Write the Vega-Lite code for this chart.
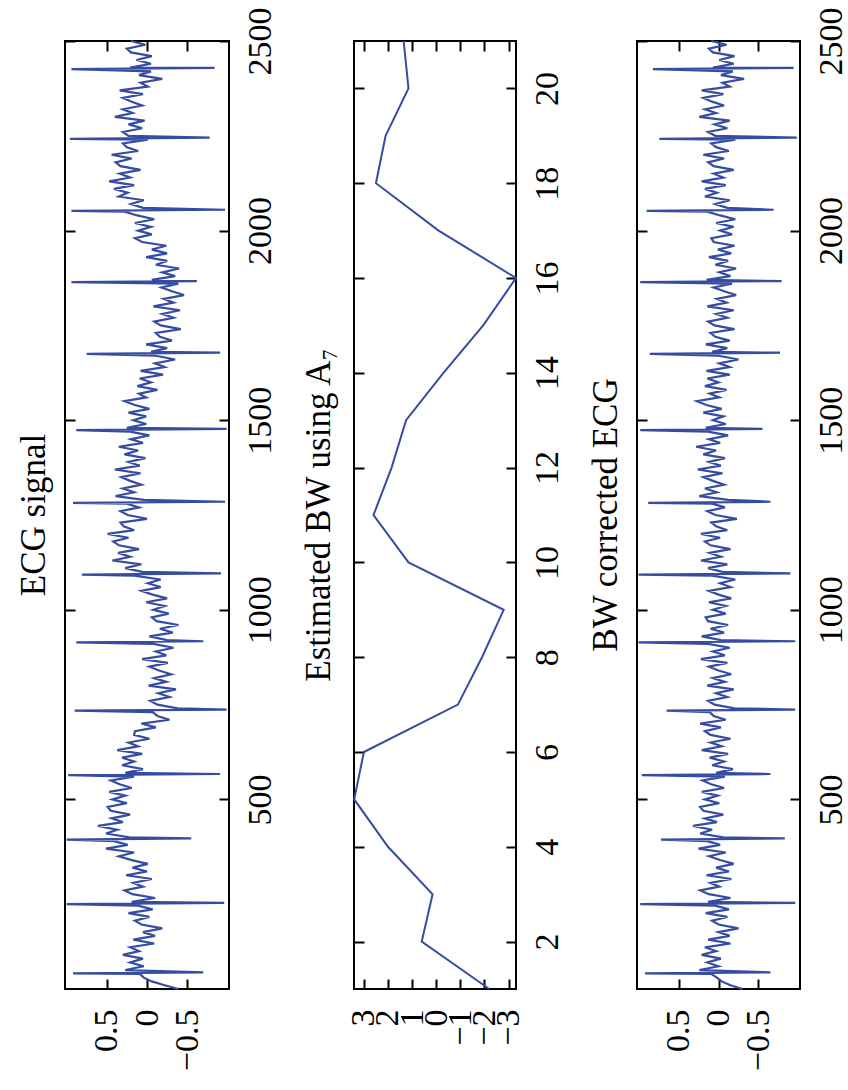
{
  "$schema": "https://vega.github.io/schema/vega-lite/v6.json",
  "background": "white",
  "padding": {"left": 16, "top": 5, "right": 5, "bottom": 5},
  "bounds": "flush",
  "spacing": 125,
  "datasets": {
    "ecg": [
      {"n":0,"raw":-0.39,"cor":-0.30},{"n":10,"raw":-0.22,"cor":-0.15},{"n":20,"raw":-0.06,"cor":-0.04},{"n":30,"raw":0.04,"cor":0.02},
      {"n":40,"raw":0.09,"cor":0.09},{"n":41,"raw":0.92,"cor":0.92},{"n":44,"raw":-0.70,"cor":-0.65},{"n":50,"raw":0.27,"cor":0.24},
      {"n":60,"raw":0.04,"cor":0.00},{"n":70,"raw":0.21,"cor":0.14},{"n":80,"raw":0.05,"cor":-0.03},{"n":90,"raw":0.30,"cor":0.21},
      {"n":100,"raw":0.10,"cor":0.03},{"n":110,"raw":0.21,"cor":0.17},{"n":120,"raw":-0.09,"cor":-0.15},{"n":130,"raw":0.17,"cor":0.13},
      {"n":140,"raw":-0.10,"cor":-0.14},{"n":150,"raw":0.05,"cor":0.00},{"n":160,"raw":-0.19,"cor":-0.25},{"n":170,"raw":0.07,"cor":0.00},
      {"n":180,"raw":0.15,"cor":0.08},{"n":190,"raw":-0.03,"cor":-0.11},{"n":200,"raw":0.23,"cor":0.16},{"n":210,"raw":-0.07,"cor":-0.13},
      {"n":220,"raw":0.11,"cor":0.04},{"n":224,"raw":1.00,"cor":0.98},{"n":227,"raw":-0.96,"cor":-0.96},{"n":230,"raw":0.19,"cor":0.13},
      {"n":240,"raw":-0.10,"cor":-0.15},{"n":250,"raw":0.18,"cor":0.12},{"n":260,"raw":0.28,"cor":0.23},{"n":270,"raw":0.05,"cor":-0.01},
      {"n":280,"raw":0.17,"cor":0.10},{"n":290,"raw":-0.06,"cor":-0.16},{"n":300,"raw":0.26,"cor":0.15},{"n":310,"raw":0.00,"cor":-0.13},
      {"n":320,"raw":0.18,"cor":0.03},{"n":330,"raw":-0.01,"cor":-0.19},{"n":340,"raw":0.19,"cor":-0.02},{"n":350,"raw":0.35,"cor":0.12},
      {"n":360,"raw":0.16,"cor":-0.09},{"n":370,"raw":0.51,"cor":0.25},{"n":380,"raw":0.24,"cor":-0.02},{"n":390,"raw":0.41,"cor":0.14},
      {"n":394,"raw":1.00,"cor":0.72},{"n":397,"raw":-0.55,"cor":-0.83},{"n":400,"raw":0.22,"cor":-0.06},{"n":410,"raw":0.51,"cor":0.23},
      {"n":420,"raw":0.37,"cor":0.08},{"n":430,"raw":0.61,"cor":0.32},{"n":440,"raw":0.30,"cor":0.02},{"n":450,"raw":0.44,"cor":0.17},
      {"n":460,"raw":0.21,"cor":-0.06},{"n":470,"raw":0.45,"cor":0.19},{"n":480,"raw":0.49,"cor":0.23},{"n":490,"raw":0.25,"cor":-0.01},
      {"n":500,"raw":0.43,"cor":0.17},{"n":510,"raw":0.27,"cor":0.01},{"n":520,"raw":0.47,"cor":0.21},{"n":530,"raw":0.19,"cor":-0.07},
      {"n":540,"raw":0.34,"cor":0.09},{"n":550,"raw":0.45,"cor":0.20},{"n":560,"raw":0.16,"cor":-0.08},{"n":564,"raw":0.98,"cor":0.96},
      {"n":567,"raw":-0.91,"cor":-0.65},{"n":570,"raw":0.27,"cor":0.03},{"n":580,"raw":0.05,"cor":-0.18},{"n":590,"raw":0.31,"cor":0.08},
      {"n":600,"raw":0.16,"cor":-0.07},{"n":610,"raw":0.31,"cor":0.11},{"n":620,"raw":0.06,"cor":-0.12},{"n":630,"raw":0.37,"cor":0.21},
      {"n":640,"raw":0.11,"cor":-0.04},{"n":650,"raw":0.23,"cor":0.10},{"n":660,"raw":-0.03,"cor":-0.15},{"n":670,"raw":0.16,"cor":0.10},
      {"n":680,"raw":0.15,"cor":0.17},{"n":690,"raw":-0.11,"cor":-0.03},{"n":700,"raw":0.07,"cor":0.23},{"n":710,"raw":-0.28,"cor":-0.09},
      {"n":720,"raw":-0.13,"cor":0.06},{"n":730,"raw":-0.07,"cor":0.11},{"n":734,"raw":0.90,"cor":0.65},{"n":737,"raw":-0.99,"cor":-0.96},
      {"n":740,"raw":-0.38,"cor":-0.20},{"n":750,"raw":-0.13,"cor":0.05},{"n":760,"raw":-0.04,"cor":0.13},{"n":770,"raw":-0.28,"cor":-0.11},
      {"n":780,"raw":-0.14,"cor":0.03},{"n":790,"raw":-0.36,"cor":-0.19},{"n":800,"raw":-0.02,"cor":0.14},{"n":810,"raw":-0.24,"cor":-0.08},
      {"n":820,"raw":-0.09,"cor":0.07},{"n":830,"raw":-0.30,"cor":-0.16},{"n":840,"raw":-0.15,"cor":0.00},{"n":850,"raw":-0.03,"cor":0.12},
      {"n":860,"raw":-0.26,"cor":-0.11},{"n":870,"raw":0.06,"cor":0.22},{"n":880,"raw":-0.24,"cor":-0.08},{"n":890,"raw":-0.11,"cor":0.07},
      {"n":900,"raw":-0.33,"cor":-0.14},{"n":910,"raw":-0.08,"cor":0.13},{"n":914,"raw":0.88,"cor":1.00},{"n":917,"raw":-0.70,"cor":-0.96},
      {"n":920,"raw":-0.25,"cor":-0.03},{"n":930,"raw":-0.03,"cor":0.21},{"n":940,"raw":-0.32,"cor":-0.07},{"n":950,"raw":-0.16,"cor":0.10},
      {"n":960,"raw":-0.39,"cor":-0.12},{"n":970,"raw":-0.12,"cor":0.13},{"n":980,"raw":-0.06,"cor":0.16},{"n":990,"raw":-0.27,"cor":-0.09},
      {"n":1000,"raw":-0.08,"cor":0.07},{"n":1010,"raw":-0.22,"cor":-0.09},{"n":1020,"raw":0.01,"cor":0.12},{"n":1030,"raw":-0.25,"cor":-0.16},
      {"n":1040,"raw":-0.07,"cor":0.00},{"n":1050,"raw":0.07,"cor":0.12},{"n":1060,"raw":-0.17,"cor":-0.15},{"n":1070,"raw":-0.01,"cor":-0.02},
      {"n":1080,"raw":-0.17,"cor":-0.21},{"n":1090,"raw":0.16,"cor":0.08},{"n":1093,"raw":0.81,"cor":1.00},{"n":1096,"raw":-0.92,"cor":-0.90},
      {"n":1100,"raw":0.06,"cor":-0.05},{"n":1110,"raw":0.27,"cor":0.13},{"n":1120,"raw":0.07,"cor":-0.11},{"n":1130,"raw":0.43,"cor":0.22},
      {"n":1140,"raw":0.21,"cor":-0.03},{"n":1150,"raw":0.36,"cor":0.11},{"n":1160,"raw":0.10,"cor":-0.15},{"n":1170,"raw":0.35,"cor":0.10},
      {"n":1180,"raw":0.42,"cor":0.17},{"n":1190,"raw":0.23,"cor":-0.02},{"n":1200,"raw":0.49,"cor":0.22},{"n":1210,"raw":0.16,"cor":-0.11},
      {"n":1220,"raw":0.29,"cor":0.03},{"n":1230,"raw":0.33,"cor":0.09},{"n":1240,"raw":0.00,"cor":-0.23},{"n":1250,"raw":0.24,"cor":0.04},
      {"n":1260,"raw":0.33,"cor":0.14},{"n":1270,"raw":0.10,"cor":-0.08},{"n":1280,"raw":0.25,"cor":0.08},{"n":1282,"raw":0.92,"cor":0.88},
      {"n":1285,"raw":-0.97,"cor":-0.65},{"n":1290,"raw":0.04,"cor":-0.12},{"n":1300,"raw":0.39,"cor":0.24},{"n":1310,"raw":0.16,"cor":0.02},
      {"n":1320,"raw":0.30,"cor":0.17},{"n":1330,"raw":0.07,"cor":-0.07},{"n":1340,"raw":0.21,"cor":0.07},{"n":1350,"raw":0.32,"cor":0.19},
      {"n":1360,"raw":0.08,"cor":-0.05},{"n":1370,"raw":0.40,"cor":0.26},{"n":1380,"raw":0.09,"cor":-0.03},{"n":1390,"raw":0.23,"cor":0.12},
      {"n":1400,"raw":0.02,"cor":-0.08},{"n":1410,"raw":0.28,"cor":0.19},{"n":1420,"raw":0.11,"cor":0.03},{"n":1430,"raw":0.35,"cor":0.28},
      {"n":1440,"raw":0.05,"cor":-0.02},{"n":1450,"raw":0.20,"cor":0.12},{"n":1460,"raw":-0.03,"cor":-0.12},{"n":1470,"raw":0.21,"cor":0.13},
      {"n":1474,"raw":0.88,"cor":0.98},{"n":1477,"raw":-0.99,"cor":-0.55},{"n":1480,"raw":0.25,"cor":0.16},{"n":1490,"raw":0.01,"cor":-0.09},
      {"n":1500,"raw":0.17,"cor":0.07},{"n":1510,"raw":0.01,"cor":-0.06},{"n":1520,"raw":0.23,"cor":0.19},{"n":1530,"raw":-0.03,"cor":-0.04},
      {"n":1540,"raw":0.15,"cor":0.15},{"n":1550,"raw":0.28,"cor":0.27},{"n":1560,"raw":0.01,"cor":-0.01},{"n":1570,"raw":0.10,"cor":0.11},
      {"n":1580,"raw":-0.13,"cor":-0.10},{"n":1590,"raw":0.12,"cor":0.17},{"n":1600,"raw":-0.05,"cor":0.00},{"n":1610,"raw":0.09,"cor":0.14},
      {"n":1620,"raw":-0.20,"cor":-0.14},{"n":1630,"raw":0.08,"cor":0.15},{"n":1640,"raw":-0.22,"cor":-0.14},{"n":1650,"raw":-0.10,"cor":-0.01},
      {"n":1660,"raw":-0.35,"cor":-0.25},{"n":1670,"raw":-0.11,"cor":0.00},{"n":1675,"raw":0.75,"cor":0.86},{"n":1678,"raw":-0.91,"cor":-0.77},
      {"n":1680,"raw":-0.05,"cor":0.08},{"n":1690,"raw":-0.25,"cor":-0.11},{"n":1700,"raw":0.01,"cor":0.16},{"n":1710,"raw":-0.31,"cor":-0.14},
      {"n":1720,"raw":-0.16,"cor":0.04},{"n":1730,"raw":-0.11,"cor":0.10},{"n":1740,"raw":-0.42,"cor":-0.20},{"n":1750,"raw":-0.17,"cor":0.05},
      {"n":1760,"raw":-0.09,"cor":0.13},{"n":1770,"raw":-0.33,"cor":-0.11},{"n":1780,"raw":-0.19,"cor":0.03},{"n":1790,"raw":-0.41,"cor":-0.19},
      {"n":1800,"raw":-0.08,"cor":0.14},{"n":1810,"raw":-0.33,"cor":-0.10},{"n":1820,"raw":-0.21,"cor":0.02},{"n":1830,"raw":-0.46,"cor":-0.22},
      {"n":1840,"raw":-0.31,"cor":-0.07},{"n":1850,"raw":-0.18,"cor":0.06},{"n":1860,"raw":-0.39,"cor":-0.17},{"n":1864,"raw":0.94,"cor":0.98},
      {"n":1867,"raw":-0.62,"cor":-0.79},{"n":1870,"raw":-0.06,"cor":0.15},{"n":1880,"raw":-0.35,"cor":-0.15},{"n":1890,"raw":-0.19,"cor":-0.01},
      {"n":1900,"raw":-0.40,"cor":-0.22},{"n":1910,"raw":-0.11,"cor":0.04},{"n":1920,"raw":-0.25,"cor":-0.12},{"n":1930,"raw":0.01,"cor":0.12},
      {"n":1940,"raw":-0.25,"cor":-0.16},{"n":1950,"raw":-0.06,"cor":0.01},{"n":1960,"raw":-0.24,"cor":-0.20},{"n":1970,"raw":0.06,"cor":0.06},
      {"n":1980,"raw":0.15,"cor":0.09},{"n":1990,"raw":-0.06,"cor":-0.17},{"n":2000,"raw":0.11,"cor":-0.02},{"n":2010,"raw":-0.05,"cor":-0.19},
      {"n":2020,"raw":0.15,"cor":0.03},{"n":2030,"raw":-0.09,"cor":-0.21},{"n":2040,"raw":0.12,"cor":-0.02},{"n":2050,"raw":0.28,"cor":0.14},
      {"n":2052,"raw":0.94,"cor":0.90},{"n":2055,"raw":-0.97,"cor":-0.69},{"n":2060,"raw":0.05,"cor":-0.11},{"n":2070,"raw":0.20,"cor":0.04},
      {"n":2080,"raw":0.04,"cor":-0.14},{"n":2090,"raw":0.35,"cor":0.17},{"n":2100,"raw":0.24,"cor":0.02},{"n":2110,"raw":0.41,"cor":0.17},
      {"n":2120,"raw":0.16,"cor":-0.09},{"n":2130,"raw":0.47,"cor":0.21},{"n":2140,"raw":0.21,"cor":-0.06},{"n":2150,"raw":0.34,"cor":0.06},
      {"n":2160,"raw":0.08,"cor":-0.19},{"n":2170,"raw":0.33,"cor":0.06},{"n":2180,"raw":0.39,"cor":0.13},{"n":2190,"raw":0.19,"cor":-0.07},
      {"n":2200,"raw":0.44,"cor":0.19},{"n":2210,"raw":0.11,"cor":-0.13},{"n":2220,"raw":0.25,"cor":0.03},{"n":2230,"raw":0.30,"cor":0.09},
      {"n":2240,"raw":-0.01,"cor":-0.21},{"n":2242,"raw":0.96,"cor":0.74},{"n":2245,"raw":-0.78,"cor":-0.98},{"n":2250,"raw":0.23,"cor":0.04},
      {"n":2260,"raw":0.30,"cor":0.13},{"n":2270,"raw":0.06,"cor":-0.11},{"n":2280,"raw":0.23,"cor":0.05},{"n":2290,"raw":0.03,"cor":-0.14},
      {"n":2300,"raw":0.40,"cor":0.24},{"n":2310,"raw":0.18,"cor":0.03},{"n":2320,"raw":0.30,"cor":0.17},{"n":2330,"raw":0.06,"cor":-0.07},
      {"n":2340,"raw":0.19,"cor":0.08},{"n":2350,"raw":0.30,"cor":0.19},{"n":2360,"raw":0.05,"cor":-0.06},{"n":2370,"raw":0.34,"cor":0.21},
      {"n":2380,"raw":-0.01,"cor":-0.14},{"n":2390,"raw":0.08,"cor":-0.05},{"n":2400,"raw":-0.19,"cor":-0.32},{"n":2410,"raw":0.10,"cor":-0.03},
      {"n":2420,"raw":-0.05,"cor":-0.18},{"n":2426,"raw":0.94,"cor":0.82},{"n":2429,"raw":-0.84,"cor":-0.94},{"n":2430,"raw":0.21,"cor":0.07},
      {"n":2440,"raw":-0.05,"cor":-0.19},{"n":2450,"raw":0.13,"cor":-0.01},{"n":2460,"raw":-0.06,"cor":-0.20},{"n":2470,"raw":0.20,"cor":0.07},
      {"n":2480,"raw":0.25,"cor":0.12},{"n":2490,"raw":0.02,"cor":-0.10},{"n":2500,"raw":0.20,"cor":0.09}
    ],
    "bw": [
      {"k":1,"bw":-2.2},{"k":2,"bw":0.6},{"k":3,"bw":0.15},{"k":4,"bw":2.0},{"k":5,"bw":3.4},{"k":6,"bw":3.0},{"k":7,"bw":-0.9},
      {"k":8,"bw":-1.9},{"k":9,"bw":-2.8},{"k":10,"bw":1.15},{"k":11,"bw":2.6},{"k":12,"bw":1.85},{"k":13,"bw":1.25},{"k":14,"bw":-0.3},
      {"k":15,"bw":-1.95},{"k":16,"bw":-3.31},{"k":17,"bw":-0.1},{"k":18,"bw":2.5},{"k":19,"bw":2.1},{"k":20,"bw":1.15},{"k":21,"bw":1.35}
    ]
  },
  "hconcat": [
    {
      "width": 164,
      "height": 948,
      "data": {"name": "ecg"},
      "title": {"text": "ECG signal", "orient": "left", "anchor": "middle", "offset": 10},
      "layer": [
        {
          "mark": {"type": "line", "color": "#364ca2", "strokeWidth": 2.2, "strokeJoin": "miter"},
          "encoding": {
            "x": {"field": "raw", "type": "quantitative", "scale": {"domain": [-1.02, 1.02], "reverse": true, "nice": false, "zero": false},
                  "axis": {"orient": "bottom", "values": [-0.5, 0, 0.5], "format": "~g", "labelAngle": -90, "labelAlign": "right", "labelBaseline": "middle", "labelPadding": 30, "tickSize": -10, "title": null}},
            "y": {"field": "n", "type": "quantitative", "scale": {"domain": [0, 2500], "nice": false, "zero": false},
                  "axis": {"orient": "right", "values": [500, 1000, 1500, 2000, 2500], "format": "d", "labelAngle": -90, "labelAlign": "center", "labelBaseline": "top", "labelPadding": 24, "tickSize": -10, "title": null}},
            "order": {"field": "n", "type": "quantitative"}
          }
        },
        {
          "mark": {"type": "line", "opacity": 0},
          "encoding": {
            "x": {"field": "raw", "type": "quantitative", "scale": {"domain": [-1.02, 1.02], "reverse": true, "nice": false, "zero": false},
                  "axis": {"orient": "top", "values": [-0.5, 0, 0.5], "labels": false, "tickSize": -10, "title": null}},
            "y": {"field": "n", "type": "quantitative", "scale": {"domain": [0, 2500], "nice": false, "zero": false},
                  "axis": {"orient": "left", "values": [500, 1000, 1500, 2000, 2500], "labels": false, "tickSize": -10, "title": null}},
            "order": {"field": "n", "type": "quantitative"}
          }
        }
      ],
      "resolve": {"axis": {"x": "independent", "y": "independent"}}
    },
    {
      "bounds": "flush",
      "spacing": 121,
      "hconcat": [
        {
          "width": 162,
          "height": 948,
          "data": {"name": "bw"},
          "title": {"text": "Estimated BW using A₇", "orient": "left", "anchor": "middle", "offset": 10},
          "layer": [
            {
              "mark": {"type": "line", "color": "#364ca2", "strokeWidth": 2},
              "encoding": {
                "x": {"field": "bw", "type": "quantitative", "scale": {"domain": [-3.31, 3.41], "reverse": true, "nice": false, "zero": false},
                      "axis": {"orient": "bottom", "values": [-3, -2, -1, 0, 1, 2, 3], "format": "d", "labelAngle": -90, "labelAlign": "right", "labelBaseline": "middle", "labelPadding": 30, "tickSize": -10, "title": null}},
                "y": {"field": "k", "type": "quantitative", "scale": {"domain": [1, 21], "nice": false, "zero": false},
                      "axis": {"orient": "right", "values": [2, 4, 6, 8, 10, 12, 14, 16, 18, 20], "format": "d", "labelAngle": -90, "labelAlign": "center", "labelBaseline": "top", "labelPadding": 24, "tickSize": -10, "title": null}},
                "order": {"field": "k", "type": "quantitative"}
              }
            },
            {
              "mark": {"type": "line", "opacity": 0},
              "encoding": {
                "x": {"field": "bw", "type": "quantitative", "scale": {"domain": [-3.31, 3.41], "reverse": true, "nice": false, "zero": false},
                      "axis": {"orient": "top", "values": [-3, -2, -1, 0, 1, 2, 3], "labels": false, "tickSize": -10, "title": null}},
                "y": {"field": "k", "type": "quantitative", "scale": {"domain": [1, 21], "nice": false, "zero": false},
                      "axis": {"orient": "left", "values": [2, 4, 6, 8, 10, 12, 14, 16, 18, 20], "labels": false, "tickSize": -10, "title": null}},
                "order": {"field": "k", "type": "quantitative"}
              }
            }
          ],
          "resolve": {"axis": {"x": "independent", "y": "independent"}}
        },
        {
          "width": 163,
          "height": 948,
          "data": {"name": "ecg"},
          "title": {"text": "BW corrected ECG", "orient": "left", "anchor": "middle", "offset": 10},
          "layer": [
            {
              "mark": {"type": "line", "color": "#364ca2", "strokeWidth": 2.2, "strokeJoin": "miter"},
              "encoding": {
                "x": {"field": "cor", "type": "quantitative", "scale": {"domain": [-1.02, 1.02], "reverse": true, "nice": false, "zero": false},
                      "axis": {"orient": "bottom", "values": [-0.5, 0, 0.5], "format": "~g", "labelAngle": -90, "labelAlign": "right", "labelBaseline": "middle", "labelPadding": 30, "tickSize": -10, "title": null}},
                "y": {"field": "n", "type": "quantitative", "scale": {"domain": [0, 2500], "nice": false, "zero": false},
                      "axis": {"orient": "right", "values": [500, 1000, 1500, 2000, 2500], "format": "d", "labelAngle": -90, "labelAlign": "center", "labelBaseline": "top", "labelPadding": 24, "tickSize": -10, "title": null}},
                "order": {"field": "n", "type": "quantitative"}
              }
            },
            {
              "mark": {"type": "line", "opacity": 0},
              "encoding": {
                "x": {"field": "cor", "type": "quantitative", "scale": {"domain": [-1.02, 1.02], "reverse": true, "nice": false, "zero": false},
                      "axis": {"orient": "top", "values": [-0.5, 0, 0.5], "labels": false, "tickSize": -10, "title": null}},
                "y": {"field": "n", "type": "quantitative", "scale": {"domain": [0, 2500], "nice": false, "zero": false},
                      "axis": {"orient": "left", "values": [500, 1000, 1500, 2000, 2500], "labels": false, "tickSize": -10, "title": null}},
                "order": {"field": "n", "type": "quantitative"}
              }
            }
          ],
          "resolve": {"axis": {"x": "independent", "y": "independent"}}
        }
      ]
    }
  ],
  "config": {
    "view": {"stroke": "black", "strokeWidth": 2},
    "axis": {
      "domain": false,
      "grid": false,
      "ticks": true,
      "tickColor": "black",
      "tickWidth": 2,
      "labelFont": "Liberation Serif",
      "labelFontSize": 34,
      "labelColor": "black",
      "labelOverlap": false,
      "labelFlush": false,
      "labelBound": false
    },
    "title": {
      "font": "Liberation Serif",
      "fontSize": 35,
      "fontWeight": "normal",
      "color": "black"
    }
  }
}
